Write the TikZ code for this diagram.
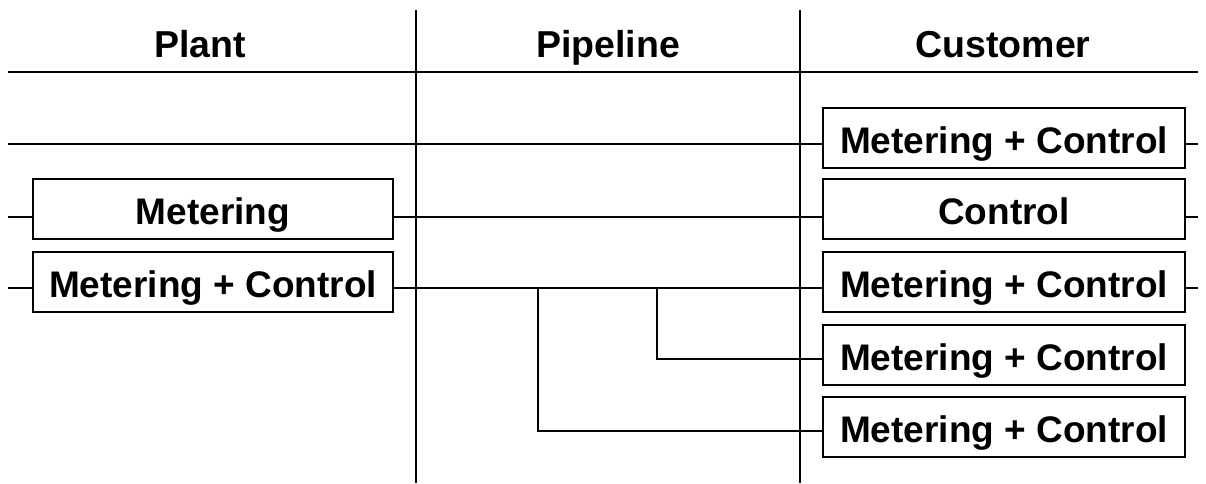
\documentclass[tikz,border=0pt]{standalone}
\usepackage{fontspec}
\setmainfont{Liberation Sans}
\usetikzlibrary{positioning}
\tikzset{
    box/.style={rectangle, draw, line width=2pt, minimum height=60pt, inner sep=0pt, text height=35pt, text depth=4pt, font=\fontsize{37}{40}\selectfont\bfseries},
    plantbox/.style={box, minimum width=360pt},
    custbox/.style={box, minimum width=362pt},
    head/.style={anchor=base, font=\fontsize{37.5}{40}\selectfont\bfseries},
    wire/.style={draw, line width=2pt}
}

\begin{document}
\begin{tikzpicture}[x=1pt,y=-1pt]
    \useasboundingbox (0,0) rectangle (1206,483);

    % Column titles
    \node [head] (plant) at (200,57) {Plant};
    \node [head] (pipe) at (608,57) {Pipeline};
    \node [head] (cust) at (1003,57) {Customer};

    % Table rules
    \draw [line width=2pt] (8,72) -- (1198,72);
    \draw [line width=2pt] (416,10) -- (416,483);
    \draw [line width=2pt] (800,10) -- (800,483);

    % Plant side
    \node [plantbox] (meter) at (213,209) {Metering};
    \node [plantbox] (plantmc) at (213,281.5) {Metering + Control};

    % Customer side
    \node [custbox] (cust1) at (1004,137.5) {Metering + Control};
    \node [custbox] (cust2) at (1004,209) {Control};
    \node [custbox] (cust3) at (1004,282) {Metering + Control};
    \node [custbox] (cust4) at (1004,355) {Metering + Control};
    \node [custbox] (cust5) at (1004,427) {Metering + Control};

    % Line ends
    \coordinate (in1) at (8,144);
    \coordinate (out1) at (1198,144);
    \coordinate (in2) at (8,217);
    \coordinate (out2) at (1198,217);
    \coordinate (in3) at (8,288);
    \coordinate (out3) at (1198,288);
    \coordinate (tap1) at (538,288);
    \coordinate (tap2) at (657,288);
    \coordinate (row4) at (0,359);
    \coordinate (row5) at (0,431);

    % Connections
    \path [wire] (in1) -- (cust1.west |- in1);
    \path [wire] (cust1.east |- out1) -- (out1);

    \path [wire] (in2) -- (meter.west |- in2);
    \path [wire] (meter.east |- in2) -- (cust2.west |- in2);
    \path [wire] (cust2.east |- out2) -- (out2);

    \path [wire] (in3) -- (plantmc.west |- in3);
    \path [wire] (plantmc.east |- in3) -- (cust3.west |- in3);
    \path [wire] (cust3.east |- out3) -- (out3);

    \path [wire] (tap2) |- (cust4.west |- row4);
    \path [wire] (tap1) |- (cust5.west |- row5);
\end{tikzpicture}
\end{document}
